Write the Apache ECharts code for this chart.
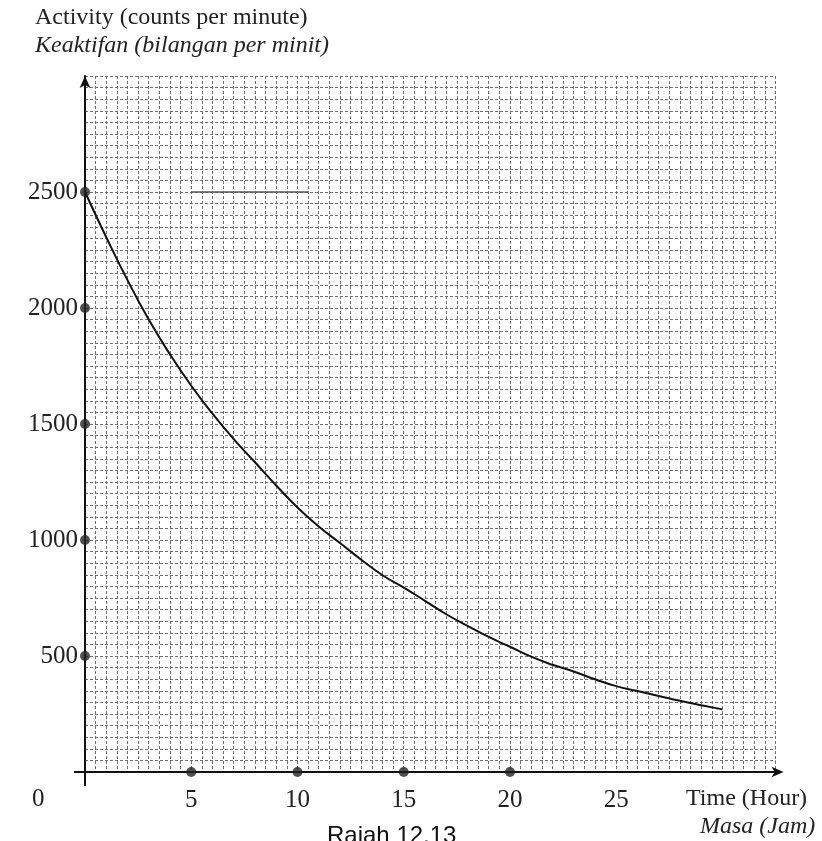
<!DOCTYPE html>
<html>
<head>
<meta charset="utf-8">
<script src="https://cdn.jsdelivr.net/npm/echarts@6/dist/echarts.min.js"></script>
<style>
html,body{margin:0;padding:0;background:#fff;}
#chart{width:822px;height:841px;}
</style>
</head>
<body>
<div id="chart"></div>
<script>
// ---- data ----
const hours = [0,1,2,3,4,5,6,7,8,9,10,11,12,13,14,15,16,17,18,19,20,21,22,23,24,25,26,27,28,29,30];
const activity = [2500,2305,2120,1950,1800,1665,1545,1435,1335,1235,1140,1058,987,915,848,795,738,680,630,582,540,497,462,433,400,370,349,328,307,288,270];
const xTickDots = [5,10,15,20];
const yTickDots = [500,1000,1500,2000,2500];
const xTickLabels = [5,10,15,20,25];
const yTickLabels = [500,1000,1500,2000,2500];
const strayLine = [[5,2500],[10.5,2500]];
const yTitle = ['Activity (counts per minute)','Keaktifan (bilangan per minit)'];
const xTitle = ['Time (Hour)','Masa (Jam)'];
const originLabel = '0';
const caption = 'Rajah 12.13';

const serif = '"Liberation Serif","DejaVu Serif",serif';
const chart = echarts.init(document.getElementById('chart'));
const gridLine = {show:true, lineStyle:{color:'#6f6f6f', width:1, type:[3,2]}};

chart.setOption({
  animation:false,
  backgroundColor:'#fff',
  grid:{left:85, right:46.4, top:76, bottom:69, containLabel:false},
  xAxis:{
    type:'value', min:0, max:32.5, interval:0.5,
    axisLine:{show:true, symbol:['none','arrow'], symbolSize:[8,12], symbolOffset:[0,8], lineStyle:{color:'#111', width:2}},
    axisTick:{show:false},
    splitLine:gridLine,
    axisLabel:{
      margin:16, color:'#222', fontFamily:serif, fontSize:25,
      formatter:v => xTickLabels.includes(v) ? String(v) : ''
    }
  },
  yAxis:{
    type:'value', min:0, max:3000, interval:50,
    axisLine:{show:true, symbol:['none','arrow'], symbolSize:[8,12], lineStyle:{color:'#111', width:2}},
    axisTick:{show:false},
    splitLine:gridLine,
    axisLabel:{
      margin:7, color:'#222', fontFamily:serif, fontSize:25,
      formatter:v => yTickLabels.includes(v) ? String(v) : ''
    }
  },
  series:[
    {
      type:'line', data:hours.map((h,i)=>[h,activity[i]]),
      smooth:true, showSymbol:false, lineStyle:{color:'#111', width:2}, z:5
    },
    {
      type:'line', data:strayLine, showSymbol:false, lineStyle:{color:'#555', width:1.5}, z:3
    },
    {
      type:'scatter', symbol:'circle', symbolSize:10, itemStyle:{color:'#222'},
      data:xTickDots.map(x=>[x,0]).concat(yTickDots.map(y=>[0,y])), z:6
    }
  ],
  graphic:[
    {type:'line', shape:{x1:85, y1:772, x2:85, y2:786}, style:{stroke:'#111', lineWidth:2}},
    {type:'line', shape:{x1:74, y1:772, x2:85, y2:772}, style:{stroke:'#111', lineWidth:2}},
    {type:'text', left:35, top:6, style:{text:yTitle[0], font:'24px '+serif, fill:'#222'}},
    {type:'text', left:35, top:34, style:{text:yTitle[1], font:'italic 24px '+serif, fill:'#222'}},
    {type:'text', left:686, top:787, style:{text:xTitle[0], font:'24px '+serif, fill:'#222'}},
    {type:'text', left:700, top:815, style:{text:xTitle[1], font:'italic 24px '+serif, fill:'#222'}},
    {type:'text', left:32, top:787, style:{text:originLabel, font:'25px '+serif, fill:'#222'}},
    {type:'text', left:327, top:824, style:{text:caption, font:'24px "Liberation Sans",Arial,sans-serif', fill:'#111'}}
  ]
});
</script>
</body>
</html>
